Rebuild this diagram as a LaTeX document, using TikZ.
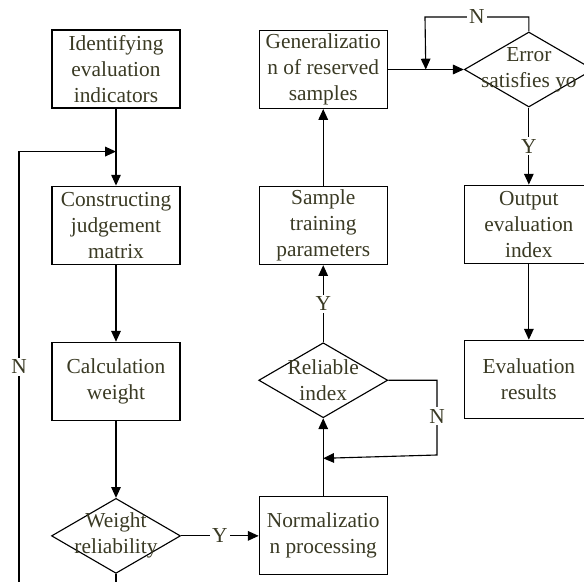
\documentclass[tikz,border=0pt]{standalone}
\usepackage{fontspec}
\setmainfont{Liberation Serif}
\usetikzlibrary{positioning,shapes.geometric,arrows.meta}
\definecolor{labeltext}{RGB}{58,58,36}
\tikzset{
  block/.style={
    draw,
    rectangle,
    minimum height=1.95cm,
    minimum width=3.2cm,
    inner sep=1pt,
    align=center
  },
  decision/.style={
    draw,
    diamond,
    minimum height=1.875cm,
    minimum width=3.225cm,
    inner sep=0pt
  },
  line/.style={-{Triangle[length=2.7mm,width=2.4mm]}},
  tag/.style={fill=white,inner sep=1.5pt}
}

\begin{document}
\begin{tikzpicture}[line width=0.8pt, text=labeltext, font=\fontsize{15.2}{18.5}\selectfont]
\useasboundingbox (0,0) rectangle (14.6,-14.55);

% first column
\node[block] (identify) at (2.9,-1.725) {Identifying\\evaluation\\indicators};
\node[block, below = 1.925cm of identify] (construct) {Constructing\\judgement\\matrix};
\node[block, below = 1.925cm of construct] (calc) {Calculation\\weight};
\node[decision, below = 1.925cm of calc, label={[align=center]center:Weight\\reliability}] (weight) {};

% second column
\node[block, right = 1.94cm of weight] (normal) {Normalizatio\\n processing};
\node[decision, above = 1.95cm of normal, label={[align=center]center:Reliable\\index}] (reliable) {};
\node[block, above = 1.925cm of reliable] (sample) {Sample\\training\\parameters};
\node[block, above = 1.925cm of sample] (general) {Generalizatio\\n of reserved\\samples};

% third column
\node[decision, right = 1.9cm of general, label={[align=center]center:Error\\satisfies yo}] (error) {};
\node[block, below = 1.925cm of error] (output) {Output\\evaluation\\index};
\node[block, below = 1.9cm of output] (result) {Evaluation\\results};

\draw[line] (identify) -- (construct);
\draw[line] (construct) -- (calc);
\draw[line] (calc) -- (weight);
\draw[line] (weight) -- node[tag] {Y} (normal);
\draw[line] (normal) -- (reliable);
\draw[line] (reliable) -- node[tag] {Y} (sample);
\draw[line] (sample) -- (general);
\draw[line] (general) -- (error);
\draw[line] (error) -- node[tag] {Y} (output);
\draw[line] (output) -- (result);

% feedback loops
\coordinate[below = 1.075cm of identify] (joinL);
\coordinate (loopL) at (0.475,-15);
\draw[line] (weight.south) |- (loopL) |- node[pos=0.26, tag] {N} (joinL);

\coordinate[below = 1.0cm of reliable] (joinR);
\coordinate (cornerR) at (10.925,-11.375);
\draw[line] (reliable.east) -| node[pos=0.74, tag] {N} (cornerR) -- (joinR);

\coordinate[left = 0.95cm of error] (joinE);
\coordinate (cornerE) at (10.625,-0.425);
\draw[line] (error.north) |- node[pos=0.75, tag] {N} (cornerE) -- (joinE);

\end{tikzpicture}
\end{document}
